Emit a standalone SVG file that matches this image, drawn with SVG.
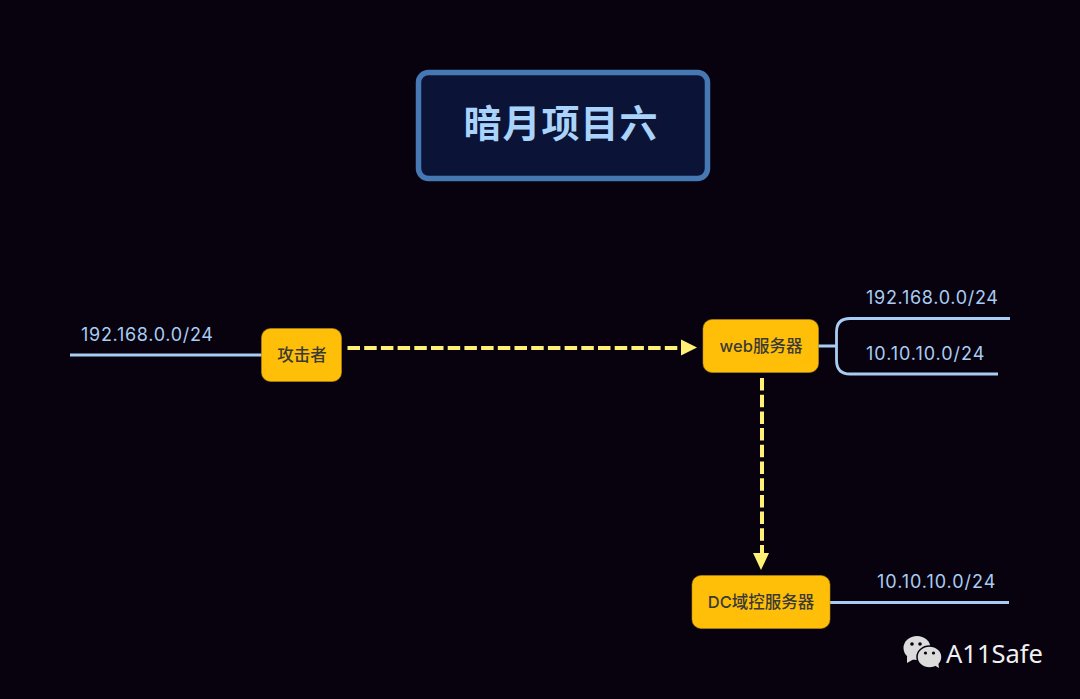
<svg xmlns="http://www.w3.org/2000/svg" width="1080" height="699" viewBox="0 0 1080 699">
<style>
.net{font-family:"Inter","Noto Sans CJK SC",sans-serif;font-size:18px;fill:#a9cdf2;letter-spacing:.7px}
.node{fill:#ffbf08;stroke:#b58a10;stroke-width:.6}
.lbl{font-family:"Inter","Noto Sans CJK SC",sans-serif;font-size:16.5px;font-weight:500;fill:#3b3a34;text-anchor:middle}
.line{fill:none;stroke:#a9cdf2;stroke-width:2.8}
.dash{fill:none;stroke:#fff176;stroke-width:4;stroke-dasharray:12.500 4.200}
.head{fill:#fff176}
</style>
<rect width="1080" height="699" fill="#08020f"/>
<g id="connectors">
<path class="line" d="M70 355H262"/>
<path class="line" d="M818 346H836M1010 318.500H850Q836.500 318.500 836.500 332V360Q836.500 374 850 374H998"/>
<path class="line" d="M830 602.500H1009"/>
<path class="dash" d="M347.500 348H682"/>
<polygon class="head" points="681,339.500 697,347.500 681,355.500"/>
<path class="dash" d="M762 378V555"/>
<polygon class="head" points="753,553 769,553 761,570"/>
</g>
<g id="title">
<rect x="418.500" y="72.500" width="289" height="106" rx="10" fill="#0b1437" stroke="#4678b4" stroke-width="5.500"/>
<text x="561" y="137" font-family="'Noto Sans CJK SC',sans-serif" font-size="38" font-weight="700" fill="#a9d3fa" text-anchor="middle" letter-spacing="1">暗月项目六</text>
</g>
<g id="attacker">
<rect class="node" x="261.500" y="328.500" width="80" height="53" rx="9"/>
<text class="lbl" x="302" y="361">攻击者</text>
<text class="net" x="81" y="341">192.168.0.0/24</text>
</g>
<g id="web">
<rect class="node" x="703" y="319.500" width="115.500" height="53" rx="9"/>
<text class="lbl" x="761" y="352">web服务器</text>
<text class="net" x="866" y="304">192.168.0.0/24</text>
<text class="net" x="866" y="360" textLength="119">10.10.10.0/24</text>
</g>
<g id="dc">
<rect class="node" x="692" y="575.500" width="138" height="53" rx="9"/>
<text class="lbl" x="761" y="608">DC域控服务器</text>
<text class="net" x="877" y="588" textLength="119">10.10.10.0/24</text>
</g>
<g id="watermark">
<ellipse cx="917" cy="648" rx="13.500" ry="12" fill="#dcdcdc"/>
<polygon points="907,656 907,663 914,659" fill="#dcdcdc"/>
<ellipse cx="929.500" cy="657" rx="12.500" ry="11" fill="#dcdcdc" stroke="#07010f" stroke-width="1.500"/>
<polygon points="934,665 939,668 938,661" fill="#dcdcdc"/>
<circle cx="912" cy="644" r="1.800" fill="#07010f"/><circle cx="920" cy="644" r="1.800" fill="#07010f"/>
<circle cx="925.500" cy="653" r="1.600" fill="#07010f"/><circle cx="933.500" cy="653" r="1.600" fill="#07010f"/>
<text x="946" y="663" font-family="'Noto Sans',sans-serif" font-size="25.500" fill="#f0f0f0">A11Safe</text>
</g>
</svg>
